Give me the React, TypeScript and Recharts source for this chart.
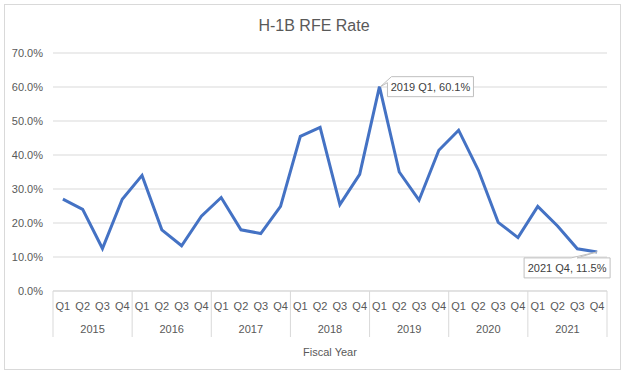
import { CartesianGrid, LabelList, Line, LineChart, XAxis, YAxis, Label } from "recharts";

const years = ["2015", "2016", "2017", "2018", "2019", "2020", "2021"];
const quarters = ["Q1", "Q2", "Q3", "Q4"];
// RFE rate (%) per fiscal quarter, 2015 Q1 .. 2021 Q4
const rates = [
  27.0, 24.0, 12.5, 27.0,
  34.0, 18.0, 13.3, 22.0,
  27.5, 18.0, 16.9, 24.9,
  45.5, 48.1, 25.4, 34.3,
  60.1, 35.0, 26.7, 41.4,
  47.3, 35.5, 20.2, 15.7,
  24.9, 19.1, 12.4, 11.5
];
const yTicks = [0, 10, 20, 30, 40, 50, 60, 70];
const calloutIdx = [16, 27];

const data = rates.map((rate, i) => ({
  key: `${years[Math.floor(i / 4)]} ${quarters[i % 4]}`,
  quarter: quarters[i % 4],
  year: years[Math.floor(i / 4)],
  rate
}));

const W = 628;
const H = 377;
const M = { top: 53, right: 21, left: 0, bottom: 0 };
const Y_W = 53;
const X_H = 86;
const BAND = (W - Y_W - M.right) / data.length;
const FONT = "'Liberation Sans', Arial, sans-serif";
const GRID = "#d9d9d9";
const TXT = "#595959";

function QuarterTick(props: any) {
  const { x, y, payload } = props;
  const i = payload.index;
  const d = data[i];
  return (
    <g>
      <text x={x} y={y + 19} textAnchor="middle" fontSize={11} fill={TXT} fontFamily={FONT}>
        {d.quarter}
      </text>
      {i % 4 === 1 && (
        <text x={x + BAND / 2} y={y + 42} textAnchor="middle" fontSize={11} fill={TXT} fontFamily={FONT}>
          {d.year}
        </text>
      )}
      {i % 4 === 0 && <line x1={x - BAND / 2} x2={x - BAND / 2} y1={y} y2={y + 46} stroke={GRID} />}
      {i === data.length - 1 && <line x1={x + BAND / 2} x2={x + BAND / 2} y1={y} y2={y + 46} stroke={GRID} />}
    </g>
  );
}

function Callout(props: any) {
  const { x, y, index, value } = props;
  if (!calloutIdx.includes(index)) return null;
  const text = `${data[index].key}, ${Number(value).toFixed(1)}%`;
  const w = 86;
  const h = 20;
  if (index === 16) {
    const bx = x + 8;
    const by = y - 10;
    return (
      <g>
        <path
          d={`M ${bx} ${by + 6} L ${x + 1} ${y} L ${bx + 4} ${by} L ${bx + w} ${by} L ${bx + w} ${by + h} L ${bx} ${by + h} Z`}
          fill="#fff"
          stroke="#bfbfbf"
        />
        <text x={bx + w / 2} y={by + 14} textAnchor="middle" fontSize={11} fill="#404040" fontFamily={FONT}>
          {text}
        </text>
      </g>
    );
  }
  const bx = x - 73;
  const by = y + 6;
  return (
    <g>
      <path
        d={`M ${bx} ${by} L ${x - 26} ${by} L ${x} ${y} L ${x - 20} ${by} L ${bx + w} ${by} L ${bx + w} ${by + h} L ${bx} ${by + h} Z`}
        fill="#fff"
        stroke="#bfbfbf"
      />
      <text x={bx + w / 2} y={by + 14} textAnchor="middle" fontSize={11} fill="#404040" fontFamily={FONT}>
        {text}
      </text>
    </g>
  );
}

export default function App() {
  return (
    <div style={{ position: "absolute", left: 0, top: 0, width: W, height: H, background: "#fff" }}>
      <div
        style={{
          position: "absolute",
          left: 4,
          top: 4,
          width: 617,
          height: 366,
          border: `1px solid ${GRID}`,
          boxSizing: "border-box"
        }}
      />
      <div
        style={{
          position: "absolute",
          left: 0,
          width: W,
          top: 17,
          textAlign: "center",
          fontFamily: FONT,
          fontSize: 16,
          color: TXT
        }}
      >
        H-1B RFE Rate
      </div>
      <LineChart width={W} height={H} data={data} margin={M} style={{ position: "absolute", left: 0, top: 0 }}>
        <CartesianGrid vertical={false} stroke={GRID} />
        <XAxis
          dataKey="key"
          scale="band"
          interval={0}
          height={X_H}
          tickLine={false}
          tickSize={0}
          tickMargin={0}
          axisLine={{ stroke: GRID }}
          tick={<QuarterTick />}
        >
          <Label value="Fiscal Year" position="insideBottom" offset={21} fontSize={11} fill={TXT} fontFamily={FONT} />
        </XAxis>
        <YAxis
          width={Y_W}
          domain={[0, 70]}
          ticks={yTicks}
          axisLine={false}
          tickLine={false}
          tickMargin={4}
          tickFormatter={(v: number) => `${v.toFixed(1)}%`}
          tick={{ fontSize: 11, fill: TXT, fontFamily: FONT }}
        />
        <Line
          type="linear"
          dataKey="rate"
          stroke="#4472C4"
          strokeWidth={3}
          dot={false}
          isAnimationActive={false}
        >
          <LabelList dataKey="rate" content={<Callout />} />
        </Line>
      </LineChart>
    </div>
  );
}
